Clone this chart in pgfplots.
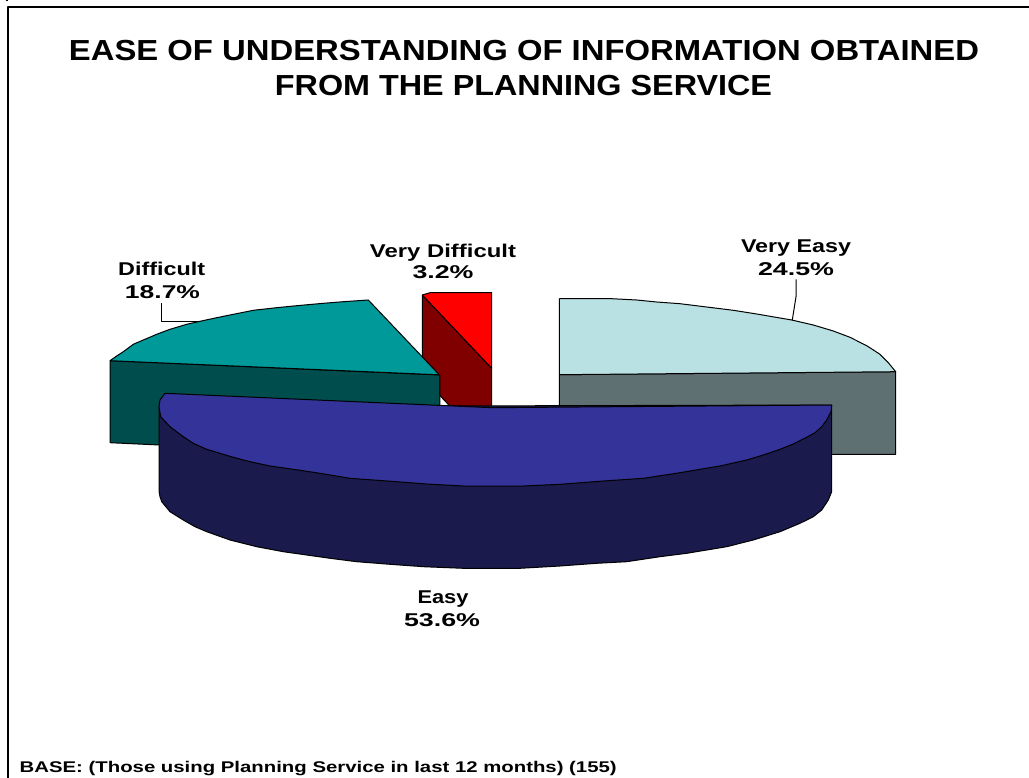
\documentclass[border=0pt]{standalone}
\usepackage{fontspec}
\setmainfont{Liberation Sans}
\usepackage{pgfplots}
\pgfplotsset{compat=1.18}

\definecolor{veasytop}{HTML}{B9E0E3}
\definecolor{veasyside}{HTML}{5F7073}
\definecolor{difftop}{HTML}{009999}
\definecolor{diffside}{HTML}{004D4D}
\definecolor{easytop}{HTML}{333399}
\definecolor{easyside}{HTML}{1A1A4D}
\definecolor{vdifftop}{HTML}{FF0000}
\definecolor{vdiffside}{HTML}{800000}

% text stretched to the width it has in the reference
\newcommand{\lab}[2]{\resizebox{#1pt}{\height}{\fontsize{18.5}{18.5}\selectfont\bfseries #2}}
\newcommand{\ttl}[2]{\resizebox{#1pt}{\height}{\fontsize{29}{29}\selectfont\bfseries #2}}

\begin{document}
\begin{tikzpicture}
\begin{axis}[scale only axis,width=1029pt,height=778pt,
  xmin=0,xmax=1029,ymin=0,ymax=778,y dir=reverse,hide axis,no marks,
  every axis plot/.append style={line join=round,draw=black,line width=1pt}]

% keeps the whole canvas in the bounding box
\addplot[draw=none] coordinates {(0,0) (1029,0) (1029,778) (0,778)};

% outer frame (right and bottom are cut off in the reference)
\addplot[line width=2.2pt] coordinates {(8,778) (8,7) (1029,7)};
\addplot[line width=2pt] coordinates {(7,0) (7,1.5)};

% very difficult: side then top
\addplot[fill=vdiffside] coordinates {(422.3,295) (491.7,368.3) (491.7,412) (451.7,408) (422.3,377) (422.3,295)};
\addplot[fill=vdifftop] coordinates {(422.3,295) (430,292.7) (491.7,292.7) (491.7,368.3) (422.3,295)};

% very easy: side then top
\addplot[fill=veasyside] coordinates {(559.3,374.7) (895.7,371.7) (895.7,454.3) (559.3,454.3) (559.3,374.7)};
\addplot[fill=veasytop] coordinates {(559.3,298.7) (611.7,298.7) (636.7,300) (656.7,302) (680,303.7) (706.7,307)
  (733.3,310.3) (756.7,314) (791.7,320) (813.3,325) (833.3,331) (850,337.3) (866.7,345.7) (880,354.3)
  (888.3,362.7) (894.3,370) (895.7,371.7) (559.3,374.7) (559.3,298.7)};

% difficult: side then top
\addplot[fill=diffside] coordinates {(110,360.7) (439.8,375) (439.8,458) (110,442.7) (110,360.7)};
\addplot[fill=difftop] coordinates {(439.3,374.8) (368.3,300) (343.3,301.7) (323.3,303.3) (296.7,305.7) (276.7,307.7)
  (253.3,310.3) (233.3,314.3) (216.7,317.7) (200,321.3) (186.7,324.3) (170,329.3) (156.7,334.3) (143.3,340)
  (133.3,344.3) (123.3,351.7) (116.7,356) (110,360.7) (439.3,374.8)};

% easy: side then top
\addplot[fill=easyside] coordinates {(159,406.7) (159,491) (160,496.7) (161.7,501.7) (170,511.7) (183.3,520) (195,526.7)
  (206.7,531.7) (230,540) (256.7,546.7) (283.3,551.7) (306.7,555) (330,558.3) (356.7,561.7) (390,564.3) (423.3,566.7)
  (463.3,568.3) (520,568.3) (560,566) (596.7,563.3) (626.7,561.7) (660,556.7) (686.7,553.3) (726.7,546.7) (753.3,540)
  (780,531.7) (800,523.3) (813.3,516.7) (821.7,510) (828.3,500) (831.7,491.7) (831.7,405) (159,406.7)};
\addplot[fill=easytop] coordinates {(165,393.3) (491.7,407.7) (831.7,405) (831,411.7) (826.7,420) (821.7,426.7) (815,432.7)
  (806.7,437.3) (793.3,444) (780,449.3) (763.3,455) (746.7,460) (720,466) (700,469.3) (680,472.7) (643.3,478.3)
  (603.3,481) (560,484.3) (523.3,486) (463.3,486) (426.7,484) (396.7,481.7) (350,478.3) (320,473.3) (293.3,469.3)
  (270,466) (250,461.7) (233.3,457.3) (206.7,449.3) (193.3,443.3) (183.3,436.7) (170,426.7) (160.7,416.7)
  (159,406.7) (160,400) (165,393.3)};

% leader lines
\addplot[draw=black] coordinates {(796,279.3) (796,296.7) (792.3,320)};
\addplot[draw=black] coordinates {(161,303.3) (161,321.7) (200,321.7)};

\node at (axis cs:524,51) {\ttl{910}{EASE OF UNDERSTANDING OF INFORMATION OBTAINED}};
\node at (axis cs:523.5,86) {\ttl{497}{FROM THE PLANNING SERVICE}};

\node at (axis cs:796,248) {\lab{110}{Very Easy}};
\node at (axis cs:796,269) {\lab{76}{24.5\%}};
\node at (axis cs:161.7,269) {\lab{87}{Difficult}};
\node at (axis cs:162.5,292) {\lab{75}{18.7\%}};
\node at (axis cs:443,253) {\lab{146}{Very Difficult}};
\node at (axis cs:443,272) {\lab{61}{3.2\%}};
\node at (axis cs:443,599) {\lab{51}{Easy}};
\node at (axis cs:442,620) {\lab{76}{53.6\%}};

\node[anchor=west,inner sep=0pt] at (axis cs:19.5,769) {\resizebox{597pt}{\height}{\fontsize{15.5}{15.5}\selectfont\bfseries BASE: (Those using Planning Service in last 12 months) (155)}};
\end{axis}
\end{tikzpicture}
\end{document}
